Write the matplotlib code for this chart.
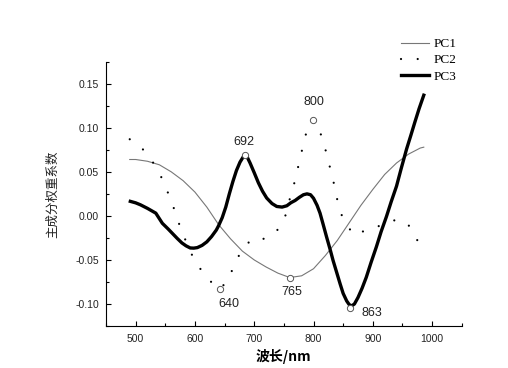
import matplotlib
matplotlib.use('Agg')
import matplotlib.pyplot as plt
from matplotlib.ticker import MultipleLocator

# wavelength (nm) / loading
pc1_x = [490, 500, 520, 540, 560, 580, 600, 620, 640, 660, 680, 700, 720, 740,
         760, 780, 800, 820, 840, 860, 880, 900, 920, 940, 960, 980, 986]
pc1_y = [0.064, 0.064, 0.062, 0.058, 0.050, 0.040, 0.027, 0.010, -0.010, -0.026,
         -0.040, -0.050, -0.058, -0.065, -0.070, -0.068, -0.060, -0.045, -0.028,
         -0.008, 0.012, 0.030, 0.047, 0.060, 0.070, 0.077, 0.078]

pc2_x = [490, 515, 532, 544, 554, 563, 571, 580, 590, 601, 617, 630, 642, 656,
         666, 678, 696, 718, 741, 753, 759, 766, 772, 777, 783, 789, 799, 805,
         815, 821, 827, 833, 838, 843, 852, 869, 889, 913, 935, 957, 970, 983]
pc2_y = [0.087, 0.074, 0.058, 0.043, 0.027, 0.0115, -0.005, -0.021, -0.037, -0.053,
         -0.067, -0.077, -0.083, -0.073, -0.056, -0.040, -0.026, -0.026, -0.015,
         0.001, 0.017, 0.033, 0.049, 0.065, 0.081, 0.098, 0.109, 0.105, 0.088,
         0.073, 0.057, 0.041, 0.025, 0.009, -0.007, -0.022, -0.016, -0.011,
         -0.005, -0.007, -0.021, -0.038]

pc3_x = [491, 500, 508, 520, 534, 545, 555, 562, 570, 578, 585, 592, 598, 604,
         612, 620, 628, 636, 640, 646, 652, 658, 664, 670, 676, 681, 684, 688,
         693, 700, 707, 714, 721, 730, 738, 747, 755, 762, 769, 776, 783, 789,
         795, 800, 806, 811, 816, 822, 828, 833, 839, 845, 850, 856, 860, 864,
         869, 875, 882, 889, 897, 906, 914, 923, 931, 940, 948, 957, 964, 971,
         978, 986]
pc3_y = [0.0165, 0.0148, 0.0126, 0.0085, 0.0031, -0.0084, -0.0150, -0.0199,
         -0.0255, -0.0307, -0.0340, -0.0364, -0.0366, -0.0360, -0.0335, -0.0295,
         -0.0235, -0.0161, -0.0110, -0.0020, 0.0100, 0.0250, 0.0390, 0.0515,
         0.0610, 0.0665, 0.0685, 0.0670, 0.0600, 0.0490, 0.0376, 0.0280, 0.0203,
         0.0140, 0.0107, 0.0100, 0.0115, 0.0150, 0.0175, 0.0210, 0.0240, 0.0250,
         0.0240, 0.0200, 0.0120, 0.0031, -0.0090, -0.0238, -0.0380, -0.0506,
         -0.0640, -0.0774, -0.0880, -0.0966, -0.1005, -0.1023, -0.1000, -0.0927,
         -0.0820, -0.0697, -0.0530, -0.0352, -0.0180, -0.0008, 0.0160, 0.0337,
         0.0540, 0.0759, 0.0910, 0.1065, 0.1215, 0.137]

mark_x = [642, 684, 760, 799, 861]
mark_y = [-0.083, 0.069, -0.070, 0.109, -0.105]
mark_lab = ['640', '692', '765', '800', '863']
lab_x = [657, 682, 763, 801, 898]
lab_y = [-0.0996, 0.084, -0.086, 0.1295, -0.110]

fig = plt.figure(figsize=(5.08, 3.68), dpi=100)
ax = fig.add_axes([0.2087, 0.1141, 0.7002, 0.7182])

ax.plot(pc1_x, pc1_y, color='#777777', lw=0.8, label='PC1')
ax.plot(pc2_x, pc2_y, color='black', lw=1.6, linestyle=(0, (0.01, 7.5)),
        dash_capstyle='round', label='PC2')
ax.plot(pc3_x, pc3_y, color='black', lw=2.4, solid_joinstyle='round', label='PC3')
ax.plot(mark_x, mark_y, 'o', ms=4.5, mfc='white', mec='#555555', mew=0.7)

for i in range(len(mark_lab)):
    ax.text(lab_x[i], lab_y[i], mark_lab[i], ha='center', va='center',
            fontsize=9, family='Liberation Sans', color='#222222')

ax.set_xlim(450, 1050)
ax.set_ylim(-0.125, 0.175)
ax.xaxis.set_major_locator(MultipleLocator(100))
ax.xaxis.set_minor_locator(MultipleLocator(50))
ax.yaxis.set_major_locator(MultipleLocator(0.05))
ax.yaxis.set_minor_locator(MultipleLocator(0.025))
ax.tick_params(which='both', direction='in', width=0.8, labelsize=7.5)
ax.tick_params(which='major', length=3.5)
ax.tick_params(which='minor', length=2)
ax.set_yticks([-0.10, -0.05, 0.00, 0.05, 0.10, 0.15])
ax.set_yticklabels(['-0.10', '-0.05', '0.00', '0.05', '0.10', '0.15'])
for lab in ax.get_xticklabels() + ax.get_yticklabels():
    lab.set_family('Liberation Sans')
    lab.set_color('#222222')
ax.tick_params(axis='y', pad=5)
ax.tick_params(axis='x', pad=6)

ax.spines['top'].set_visible(False)
ax.spines['right'].set_visible(False)
ax.spines['left'].set_linewidth(0.8)
ax.spines['bottom'].set_linewidth(0.8)

ax.set_ylabel('主成分权重系数', family=['Noto Sans CJK SC', 'DejaVu Sans'],
              fontsize=9, labelpad=12, color='#222222')
ax.set_xlabel('波长/nm', family=['Noto Sans CJK SC', 'DejaVu Sans'],
              fontsize=10, fontweight='bold', labelpad=3)

ax.legend(loc='upper left', bbox_to_anchor=(401 / 508, 1 - 38 / 368),
          bbox_transform=fig.transFigure, frameon=False, borderpad=0,
          borderaxespad=0, handlelength=2.1, handletextpad=0.4,
          labelspacing=0.3, prop={'family': 'Liberation Serif', 'size': 9.5})

fig.savefig('out.png', dpi=100)
